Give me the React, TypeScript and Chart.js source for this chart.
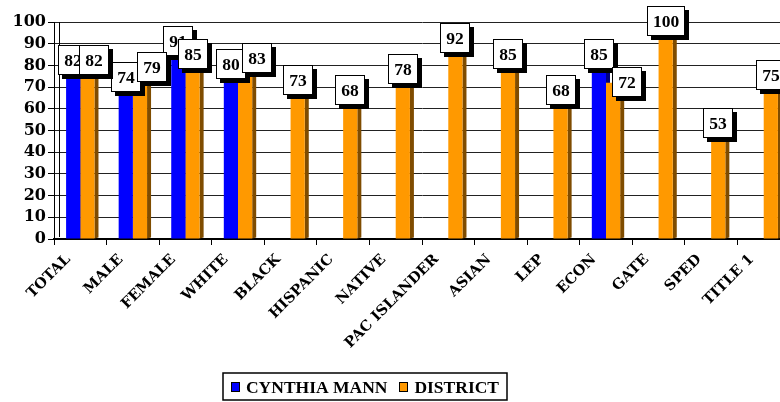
import React, { useEffect, useRef } from 'react';
import { Chart, registerables } from 'chart.js';

Chart.register(...registerables);

const categories = ['TOTAL', 'MALE', 'FEMALE', 'WHITE', 'BLACK', 'HISPANIC', 'NATIVE', 'PAC ISLANDER', 'ASIAN', 'LEP', 'ECON', 'GATE', 'SPED', 'TITLE 1'];
const schoolValues: (number | null)[] = [82, 74, 91, 80, null, null, null, null, null, null, 85, null, null, null];
const districtValues: (number | null)[] = [82, 79, 85, 83, 73, 68, 78, 92, 85, 68, 72, 100, 53, 75];
const seriesNames = ['CYNTHIA MANN', 'DISTRICT'];
const seriesColors = ['#0000FF', '#FF9900'];
const sideColors = ['#000080', '#7F4C00'];

const SERIF = '"Liberation Serif", "Times New Roman", serif';
const WIDE_SERIF = '"DejaVu Serif", serif';

// small manual nudges of the district value boxes (as in the reference, where they were moved aside)
const districtLabelNudge: Record<number, number> = { 0: 7, 1: 12, 3: 12, 10: 14 };

const side3d = {
  id: 'side3d',
  beforeDatasetsDraw(chart: any) {
    const ctx = chart.ctx;
    const area = chart.chartArea;
    ctx.save();
    // back wall edge of the 3D frame
    ctx.strokeStyle = '#000';
    ctx.lineWidth = 1;
    ctx.beginPath();
    ctx.moveTo(area.left + 5.5, area.top);
    ctx.lineTo(area.left + 5.5, area.bottom - 2);
    ctx.stroke();
    chart.data.datasets.forEach((ds: any, i: number) => {
      const meta = chart.getDatasetMeta(i);
      meta.data.forEach((bar: any, j: number) => {
        const v = ds.data[j];
        if (v === null || v === undefined) return;
        const { x, y, base, width } = bar.getProps(['x', 'y', 'base', 'width'], true);
        const r = x + width / 2;
        const d = 4;
        ctx.fillStyle = sideColors[i];
        ctx.beginPath();
        ctx.moveTo(r, y);
        ctx.lineTo(r + d, y - 3);
        ctx.lineTo(r + d, base - 1);
        ctx.lineTo(r, base);
        ctx.closePath();
        ctx.fill();
      });
    });
    ctx.restore();
  },
};

const valueBoxes = {
  id: 'valueBoxes',
  afterDatasetsDraw(chart: any) {
    const ctx = chart.ctx;
    ctx.save();
    ctx.font = `bold 17.5px ${SERIF}`;
    ctx.textAlign = 'center';
    ctx.textBaseline = 'middle';
    chart.data.datasets.forEach((ds: any, i: number) => {
      const meta = chart.getDatasetMeta(i);
      meta.data.forEach((bar: any, j: number) => {
        const v = ds.data[j];
        if (v === null || v === undefined) return;
        const { x, y } = bar.getProps(['x', 'y'], true);
        const text = String(v);
        const tw = ctx.measureText(text).width;
        const w = Math.round(tw + 12);
        const h = 30;
        const cx = x + (i === 1 ? districtLabelNudge[j] || 0 : 0);
        const left = Math.round(cx - w / 2);
        const top = Math.round(y - 1 - h / 2);
        ctx.fillStyle = '#000';
        ctx.fillRect(left + 4, top + 4, w, h);
        ctx.fillStyle = '#fff';
        ctx.fillRect(left, top, w, h);
        ctx.strokeStyle = '#000';
        ctx.lineWidth = 1;
        ctx.strokeRect(left + 0.5, top + 0.5, w - 1, h - 1);
        ctx.fillStyle = '#000';
        ctx.fillText(text, left + w / 2, top + h / 2 + 1);
      });
    });
    ctx.restore();
  },
};

const boxedLegend = {
  id: 'boxedLegend',
  afterDraw(chart: any) {
    const ctx = chart.ctx;
    const centerX = 365;
    const midY = 387;
    const gapItems = 12;
    const sq = 9;
    const sqH = 10;
    const textGap = 6;
    ctx.save();
    ctx.font = `bold 17.5px ${SERIF}`;
    const items = chart.data.datasets.map((ds: any) => ({
      text: ds.label,
      color: ds.backgroundColor,
      tw: ctx.measureText(ds.label).width,
    }));
    const total = items.reduce((s: number, it: any) => s + sq + textGap + it.tw, 0) + gapItems * (items.length - 1);
    let x = centerX - total / 2;
    ctx.strokeStyle = '#000';
    ctx.lineWidth = 1.5;
    ctx.strokeRect(Math.round(x - 8), 373, Math.round(total + 16), 27);
    ctx.textBaseline = 'middle';
    ctx.textAlign = 'left';
    items.forEach((it: any) => {
      ctx.fillStyle = it.color;
      ctx.fillRect(Math.round(x), midY - sqH / 2, sq, sqH);
      ctx.lineWidth = 1;
      ctx.strokeStyle = '#000';
      ctx.strokeRect(Math.round(x) + 0.5, midY - sqH / 2 + 0.5, sq - 1, sqH - 1);
      ctx.fillStyle = '#000';
      ctx.fillText(it.text, x + sq + textGap, midY + 1);
      x += sq + textGap + it.tw + gapItems;
    });
    ctx.restore();
  },
};

export default function App() {
  const ref = useRef<HTMLCanvasElement | null>(null);

  useEffect(() => {
    if (!ref.current) return;
    const chart = new Chart(ref.current, {
      type: 'bar',
      data: {
        labels: categories,
        datasets: [
          { label: seriesNames[0], data: schoolValues, backgroundColor: seriesColors[0], borderWidth: 0 },
          { label: seriesNames[1], data: districtValues, backgroundColor: seriesColors[1], borderWidth: 0 },
        ],
      },
      options: {
        animation: false,
        responsive: false,
        events: [],
        datasets: { bar: { categoryPercentage: 0.54, barPercentage: 1 } },
        layout: { padding: { top: 22, left: 0, right: 2, bottom: 0 } },
        plugins: {
          legend: { display: false },
          tooltip: { enabled: false },
          title: { display: false },
        },
        scales: {
          x: {
            grid: { display: true, drawOnChartArea: false, tickLength: 6, tickColor: '#000', offset: true },
            border: { color: '#000', width: 2 },
            ticks: {
              color: '#000',
              font: { family: WIDE_SERIF, size: 14.5, weight: 'bold' },
              minRotation: 45,
              maxRotation: 45,
              autoSkip: false,
              labelOffset: -12,
              padding: 6,
            },
            afterFit(scale: any) {
              scale.height = 163;
            },
          },
          y: {
            min: 0,
            max: 100,
            grid: { color: '#222', lineWidth: 1, tickLength: 6, tickColor: '#000' },
            border: { color: '#000', width: 1 },
            ticks: {
              stepSize: 10,
              autoSkip: false,
              color: '#000',
              font: { family: WIDE_SERIF, size: 16, weight: 'bold' },
              padding: 2,
            },
            afterFit(scale: any) {
              scale.width = 54;
            },
          },
        },
      },
      plugins: [side3d, valueBoxes, boxedLegend],
    });
    return () => chart.destroy();
  }, []);

  return (
    <div style={{ position: 'fixed', left: 0, top: 0, width: 780, height: 402, overflow: 'hidden', background: '#fff' }}>
      <canvas ref={ref} width={792} height={402} style={{ display: 'block', width: 792, height: 402 }} />
    </div>
  );
}
